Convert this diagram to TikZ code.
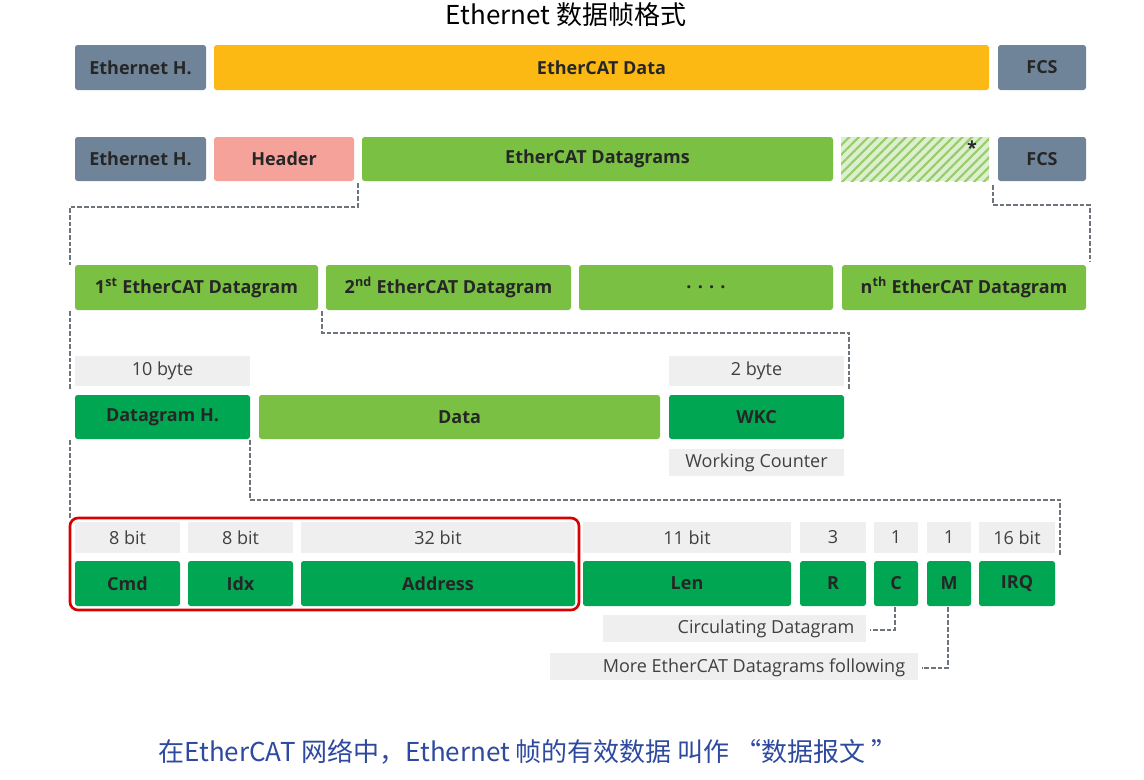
\documentclass[tikz,border=0pt]{standalone}
\usepackage{fontspec}
\setmainfont{Open Sans}
\newfontfamily\cjk{Noto Sans CJK SC}
\usetikzlibrary{patterns.meta}
\definecolor{slate}{HTML}{6F8499}
\definecolor{orng}{HTML}{FDB913}
\definecolor{salmon}{HTML}{F4A29A}
\definecolor{lgreen}{HTML}{7AC143}
\definecolor{dgreen}{HTML}{00A651}
\definecolor{lbl}{HTML}{EFEFEF}
\definecolor{dash}{HTML}{6E747C}
\definecolor{bluetxt}{HTML}{2E4A9E}
\begin{document}
\begin{tikzpicture}[x=0.75pt,y=-0.75pt,
 box/.style={rounded corners=2pt,draw=none,font=\bfseries\fontsize{13.5}{15}\selectfont,text=black!85},
 lab/.style={fill=lbl,font=\fontsize{13.5}{15}\selectfont,text=black!75},
 dl/.style={draw=dash,line width=1.2pt,dash pattern=on 3.5pt off 1.5pt}]
\useasboundingbox (0,0) rectangle (1144,779);
\node[font=\cjk\fontsize{19.5}{22}\selectfont] (title) at (566,15) {Ethernet 数据帧格式};
% row 1
\fill[slate,rounded corners=2pt] (75,45) rectangle (206,90) node[box,midway] (a1) {Ethernet H.};
\fill[orng,rounded corners=2pt] (214,45) rectangle (989,90) node[box,midway] (a2) {EtherCAT Data};
\fill[slate,rounded corners=2pt] (998,45) rectangle (1086,90) node[box,midway] (a3) {FCS};
% row 2
\fill[slate,rounded corners=2pt] (75,137) rectangle (206,181) node[box,midway] (b1) {Ethernet H.};
\fill[salmon,rounded corners=2pt] (214,137) rectangle (354,181) node[box,midway] (b2) {Header};
\fill[lgreen,rounded corners=2pt] (362,137) rectangle (833,181) node[box,midway] (b3) {EtherCAT Datagrams};
\fill[lgreen!25] (841,137) rectangle (989,181);
\fill[pattern={Lines[angle=45,distance=5pt,line width=1.6pt]},pattern color=lgreen!80] (841,137) rectangle (989,181);
\node[box] (b4) at (972,148) {*};
\fill[slate,rounded corners=2pt] (998,137) rectangle (1086,181) node[box,midway] (b5) {FCS};
% row 3
\fill[lgreen,rounded corners=2pt] (75,265) rectangle (318,310) node[box,midway] (c1) {1\textsuperscript{st} EtherCAT Datagram};
\fill[lgreen,rounded corners=2pt] (326,265) rectangle (571,310) node[box,midway] (c2) {2\textsuperscript{nd} EtherCAT Datagram};
\fill[lgreen,rounded corners=2pt] (579,265) rectangle (833,310) node[box,midway] (c3) {. . . .};
\fill[lgreen,rounded corners=2pt] (842,265) rectangle (1086,310) node[box,midway] (c4) {n\textsuperscript{th} EtherCAT Datagram};
% labels row
\fill[lbl] (75,356) rectangle (250,386) node[lab,midway] (l1) {10 byte};
\fill[lbl] (669,356) rectangle (844,386) node[lab,midway] (l2) {2 byte};
% row 4
\fill[dgreen,rounded corners=2pt] (75,395) rectangle (250,439) node[box,midway] (d1) {Datagram H.};
\fill[lgreen,rounded corners=2pt] (259,395) rectangle (660,439) node[box,midway] (d2) {Data};
\fill[dgreen,rounded corners=2pt] (669,395) rectangle (844,439) node[box,midway] (d3) {WKC};
\fill[lbl] (669,449) rectangle (844,476) node[lab,midway] (wc) {Working Counter};
% bit labels
\foreach \a/\b/\t/\n in {75/180/8 bit/m1,188/293/8 bit/m2,301/575/32 bit/m3,583/791/11 bit/m4,800/866/3/m5,874/918/1/m6,927/971/1/m7,979/1055/16 bit/m8}
 \fill[lbl] (\a,522) rectangle (\b,553) node[lab,midway] (\n) {\t};
\foreach \a/\b/\t/\n in {75/180/Cmd/e1,188/293/Idx/e2,301/575/Address/e3,583/791/Len/e4,800/866/R/e5,874/918/C/e6,927/971/M/e7,979/1055/IRQ/e8}
 \fill[dgreen,rounded corners=2pt] (\a,561) rectangle (\b,606) node[box,midway] (\n) {\t};
\draw[red!85!black,line width=2pt,rounded corners=6pt] (70,518) rectangle (579,610);
\fill[lbl] (603,615) rectangle (866,642);
\node[lab,fill=none] (cd) at (766,629) {Circulating Datagram};
\fill[lbl] (550,653) rectangle (918,680);
\begin{scope}
\clip (0,640) rectangle (1144,676);
\node[lab,fill=none] (md) at (754,668) {More EtherCAT Datagrams following};
\end{scope}
% dashed connectors
\draw[dl] (358,183) |- (70,207) -- (70,265);
\draw[dl] (993,185) |- (1090,205) -- (1090,262);
\draw[dl] (322,311) |- (849,333) -- (849,390);
\draw[dl] (70,311) -- (70,390);
\draw[dl] (70,440) -- (70,520);
\draw[dl] (250,440) |- (1060,500) -- (1060,556);
\draw[dl] (895,607) |- (870,630);
\draw[dl] (948,607) |- (922,668);
\node[font=\cjk\fontsize{19.5}{22}\selectfont,text=bluetxt] (foot) at (528,752) {在EtherCAT 网络中，Ethernet 帧的有效数据 叫作 “数据报文 ”};
\end{tikzpicture}
\end{document}
